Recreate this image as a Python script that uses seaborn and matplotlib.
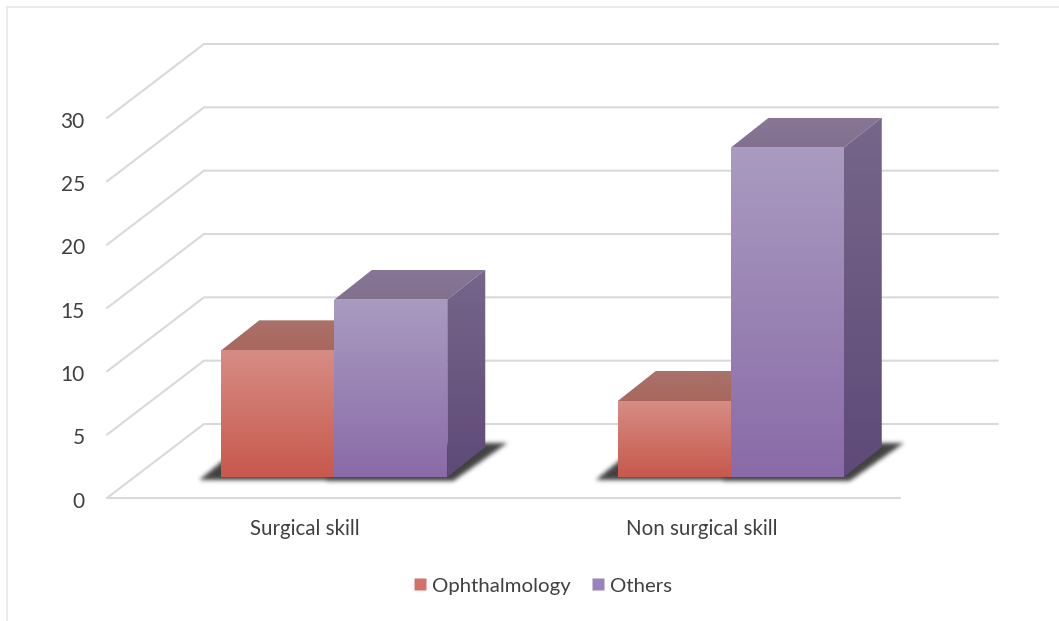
import numpy as np
import pandas as pd
import matplotlib
matplotlib.use('Agg')
import matplotlib.pyplot as plt
from matplotlib.colors import LinearSegmentedColormap
from matplotlib.lines import Line2D
from matplotlib.patches import Polygon
from matplotlib.path import Path
from matplotlib.transforms import ScaledTranslation
import seaborn as sns

categories = ['Surgical skill', 'Non surgical skill']
ophthalmology = [10, 6]
others = [14, 26]
yticks = [0, 5, 10, 15, 20, 25, 30]
series_names = ['Ophthalmology', 'Others']

W, H = 1059, 621
GRID = '#d9d9d9'
TEXT = '#404040'
WALL = (97, 74)    # depth of the chart floor, pixels
DEPTH = (38, 30)   # depth of one bar, pixels

# front, top face and side face colours: (upper, lower)
styles = {
    'Ophthalmology': dict(front=('#d68c84', '#c8594d'), top=('#a9726a', '#a9675d'), side=('#a05048', '#904038'), swatch='#d4706a'),
    'Others': dict(front=('#a99bc0', '#8a6ba8'), top=('#877696', '#83708f'), side=('#76668a', '#5f4a78'), swatch='#9a82bb'),
}

sns.set_theme(style='white')
plt.rcParams['font.family'] = ['Lato', 'DejaVu Sans']

fig = plt.figure(figsize=(W / 100, H / 100), dpi=100, facecolor='white')


def box(left, right, bottom, top):
    return [left / W, 1 - bottom / H, (right - left) / W, (bottom - top) / H]


def shift(ax, x, y, dx=0, dy=0):
    # data point moved by some pixels, back in data coordinates (dy is upwards)
    px = ax.transData.transform((x, y))
    return ax.transData.inverted().transform((px[0] + dx, px[1] + dy))


def shade(ax, pts, colors, zorder):
    # polygon filled with a vertical gradient
    pts = np.array(pts)
    cmap = LinearSegmentedColormap.from_list('g', [colors[1], colors[0]])
    poly = Polygon(pts, closed=True, fc='none', ec='none', transform=ax.transData)
    ax.add_patch(poly)
    im = ax.imshow(np.linspace(1, 0, 64).reshape(-1, 1), cmap=cmap, vmin=0, vmax=1, aspect='auto',
                   extent=[pts[:, 0].min(), pts[:, 0].max(), pts[:, 1].min(), pts[:, 1].max()], zorder=zorder)
    im.set_clip_path(poly)


def soft_shadow(ax, pts, zorder, pad=12):
    # polygon rendered to a small alpha image, then blurred
    px = ax.transData.transform(pts)
    x0, y0 = np.floor(px.min(axis=0)) - pad
    x1, y1 = np.ceil(px.max(axis=0)) + pad
    xs, ys = np.meshgrid(np.arange(x0, x1) + 0.5, np.arange(y0, y1) + 0.5)
    inside = Path(px).contains_points(np.c_[xs.ravel(), ys.ravel()]).reshape(xs.shape).astype(float)
    kernel = np.exp(-np.arange(-6, 7) ** 2 / (2 * 2.2 ** 2))
    kernel /= kernel.sum()
    for axis in (0, 1):
        inside = np.apply_along_axis(np.convolve, axis, inside, kernel, mode='same')
    rgba = np.zeros(inside.shape + (4,))
    rgba[..., :3] = 0.22
    rgba[..., 3] = inside * 0.95
    (dx0, dy0), (dx1, dy1) = ax.transData.inverted().transform([(x0, y0), (x1, y1)])
    ax.imshow(rgba, origin='lower', extent=[dx0, dx1, dy0, dy1], aspect='auto', zorder=zorder, clip_on=False)


# floor and back wall
ax = fig.add_axes(box(107, 900, 498, 118))
ax.set_xlim(-0.5, 1.5)
ax.set_ylim(0, 30)
ax.patch.set_alpha(0)
sns.despine(ax=ax, left=True, bottom=True)
ax.set_xticks(range(len(categories)), categories)
ax.set_yticks(yticks)
ax.tick_params(axis='x', length=0, pad=15, labelsize=14.8, labelcolor=TEXT)
ax.tick_params(axis='y', length=0, pad=16, labelsize=15, labelcolor=TEXT)
for label in ax.get_yticklabels():
    label.set_transform(label.get_transform() + ScaledTranslation(0, -1.5 / 100, fig.dpi_scale_trans))

back_w = ax.transData.inverted().transform((ax.transData.transform((1.5, 0))[0] + 98, 0))[0]
for v in yticks:
    corner = shift(ax, -0.5, v, *WALL)
    ax.plot([-0.5, corner[0], back_w], [v, corner[1], corner[1]], color=GRID, lw=1.5,
            clip_on=False, solid_joinstyle='miter', zorder=1)
ax.plot([-0.5, 1.5], [0, 0], color=GRID, lw=1.5, clip_on=False, zorder=1)

# bars, on the same scale but set into the floor
ax2 = fig.add_axes(box(136, 929, 477, 97))
df = pd.DataFrame({
    'category': categories * 2,
    'series': [series_names[0]] * 2 + [series_names[1]] * 2,
    'value': ophthalmology + others,
})
sns.barplot(data=df, x='category', y='value', hue='series', hue_order=series_names, order=categories,
            palette={k: s['swatch'] for k, s in styles.items()}, width=0.57, gap=0, saturation=1,
            ax=ax2, legend=True)
ax2.set_xlim(-0.5, 1.5)
ax2.set_ylim(0, 30)
ax2.axis('off')
ax2.patch.set_alpha(0)

bars = [[c[i] for c in ax2.containers] for i in range(len(categories))]
for group in bars:
    for j, bar in enumerate(group):
        x0, x1 = bar.get_x(), bar.get_x() + bar.get_width()
        h = bar.get_height()
        s = styles[series_names[j]]
        z = 3 + 2 * j
        bar.set_visible(False)
        bl, br = (x0, 0), (x1, 0)
        tl, tr = (x0, h), (x1, h)
        top_l, top_r = shift(ax2, *tl, *DEPTH), shift(ax2, *tr, *DEPTH)
        base_r = shift(ax2, *br, *DEPTH)
        shade(ax2, [tl, tr, top_r, top_l], s['top'], z)
        shade(ax2, [br, base_r, top_r, tr], s['side'], z)
        shade(ax2, [bl, br, tr, tl], s['front'], z + 1)
    # soft shadow under the pair of bars
    xa, xb = group[0].get_x(), group[-1].get_x() + group[-1].get_width()
    sh = [shift(ax2, xa, 0, -22, -3), shift(ax2, xb, 0, 6, -4),
          shift(ax2, xb, 0, DEPTH[0] + 22, DEPTH[1] + 4), shift(ax2, xa, 0, DEPTH[0] - 20, DEPTH[1])]
    soft_shadow(ax2, sh, 2)

ax2.set_xlim(-0.5, 1.5)
ax2.set_ylim(0, 30)

handles = [Line2D([], [], ls='none', marker='s', ms=9, mfc=styles[n]['swatch'], mec='none') for n in series_names]
ax2.legend(handles, series_names, loc='center', bbox_to_anchor=(541 / W, 1 - 586 / H), bbox_transform=fig.transFigure,
           ncol=2, frameon=False, fontsize=14.7, labelcolor=TEXT, handletextpad=0.1, columnspacing=0.8, handlelength=1)

# outer frame of the picture
fig.add_artist(Line2D([7 / W, 7 / W], [0, 1 - 7 / H], color='#e8e8e8', lw=1.2))
fig.add_artist(Line2D([7 / W, 1], [1 - 7 / H, 1 - 7 / H], color='#e8e8e8', lw=1.2))

fig.savefig('out.png', dpi=100, facecolor='white')
